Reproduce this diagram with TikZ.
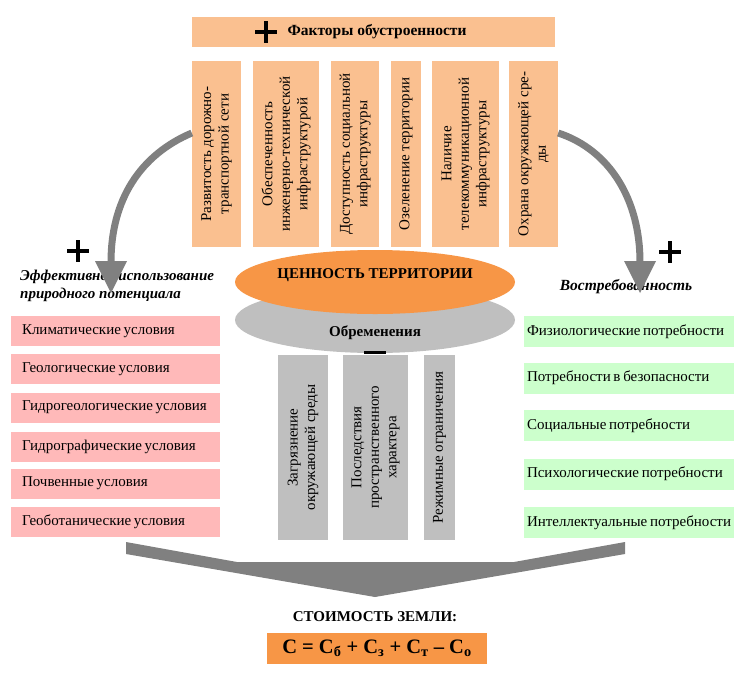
\documentclass[tikz,border=0pt]{standalone}
\usepackage{fontspec}
\setmainfont{Liberation Serif}
\usetikzlibrary{shapes.geometric}
\definecolor{cPeach}{HTML}{FAC090}
\definecolor{cOrange}{HTML}{F79646}
\definecolor{cGray}{HTML}{BFBFBF}
\definecolor{cPink}{HTML}{FFB9B9}
\definecolor{cGreen}{HTML}{CCFFCC}
\definecolor{cArrow}{HTML}{808080}
\newcommand{\nw}[1]{\mbox{\spaceskip=0.18em plus 0.05em\relax #1}}
\begin{document}
\begin{tikzpicture}[x=1pt,y=-1pt,
  txt/.style={font=\fontsize{15}{17.5}\selectfont, text=black},
  btxt/.style={font=\fontsize{15}{17.5}\selectfont\bfseries, text=black},
  topbar/.style={fill=cPeach, draw=none, inner sep=0pt, minimum width=363pt, minimum height=30pt},
  vbox/.style={fill=cPeach, draw=none, rotate=90, inner sep=0pt, align=center, minimum width=186pt, txt},
  gbox/.style={fill=cGray, draw=none, rotate=90, inner sep=0pt, align=center, minimum width=185pt, txt},
  pinkbox/.style={fill=cPink, draw=none, inner sep=0pt, minimum width=209pt, minimum height=30pt, txt, text width=187pt, align=left},
  greenbox/.style={fill=cGreen, draw=none, inner sep=0pt, minimum width=210pt, minimum height=31pt, txt, text width=204pt, align=left},
  plussign/.style={line width=3.5pt, black},
  bigarrow/.style={draw=cArrow, line width=7pt},
  headfill/.style={fill=cArrow, draw=none}
]
\useasboundingbox (0,0) rectangle (750,681);

% top bar
\node[topbar] (topbar) at (373.5,32) {};
\node[btxt, font=\fontsize{15.5}{18}\selectfont\bfseries] (toptitle) at (377,32) {Факторы обустроенности};
\draw[plussign] (255,32) -- (277,32) (266,21) -- (266,43);

% vertical peach boxes
\node[vbox, minimum height=49pt] (f1) at (216.5,154) {Развитость дорожно-\\транспортной сети};
\node[vbox, minimum height=66pt] (f2) at (286,154) {Обеспеченность\\инженерно-технической\\инфраструктурой};
\node[vbox, minimum height=48pt] (f3) at (355,154) {Доступность социальной\\инфраструктуры};
\node[vbox, minimum height=30pt] (f4) at (406,154) {Озеленение территории};
\node[vbox, minimum height=67pt] (f5) at (465.5,154) {Наличие\\телекоммуникационной\\инфраструктуры};
\node[vbox, minimum height=49pt] (f6) at (533.5,154) {Охрана окружающей сре-\\ды};

% ellipses
\node[ellipse, fill=cGray, minimum width=280pt, minimum height=66pt, inner sep=0pt] (obr) at (375,320) {};
\node[btxt] (obrtxt) at (375,333) {Обременения};
\node[ellipse, fill=cOrange, minimum width=280pt, minimum height=64pt, inner sep=0pt] (val) at (375,282) {};
\node[btxt] (valtxt) at (375,275) {ЦЕННОСТЬ ТЕРРИТОРИИ};
\draw[line width=3pt, black] (364,352) -- (386,352);

% gray boxes
\node[gbox, minimum height=50pt] (g1) at (303,447.5) {Загрязнение\\окружающей среды};
\node[gbox, minimum height=65pt] (g2) at (375.5,447.5) {Последствия\\пространственного\\характера};
\node[gbox, minimum height=31pt] (g3) at (439.5,447.5) {Режимные ограничения};

% left title and pink boxes
\node[anchor=west, align=left, inner sep=0pt, font=\fontsize{15}{18.5}\selectfont\bfseries\itshape] (ltitle) at (20,286) {Эффективное использование\\природного потенциала};
\draw[plussign] (67,251) -- (89,251) (78,240) -- (78,262);
\node[pinkbox] (p1) at (115.5,331) {\nw{Климатические условия}};
\node[pinkbox] (p2) at (115.5,369) {\nw{Геологические условия}};
\node[pinkbox] (p3) at (115.5,407.5) {\nw{Гидрогеологические условия}};
\node[pinkbox] (p4) at (115.5,446.5) {\nw{Гидрографические условия}};
\node[pinkbox] (p5) at (115.5,483.5) {\nw{Почвенные условия}};
\node[pinkbox] (p6) at (115.5,521.5) {\nw{Геоботанические условия}};

% right title and green boxes
\node[font=\fontsize{15.5}{18}\selectfont\bfseries\itshape] (rtitle) at (626,287) {Востребованность};
\draw[plussign] (659,252) -- (681,252) (670,241) -- (670,263);
\node[greenbox] (q1) at (629,331.5) {\nw{Физиологические потребности}};
\node[greenbox] (q2) at (629,378) {\nw{Потребности в безопасности}};
\node[greenbox] (q3) at (629,425.5) {\nw{Социальные потребности}};
\node[greenbox] (q4) at (629,474) {\nw{Психологические потребности}};
\node[greenbox] (q5) at (629,522.5) {\nw{Интеллектуальные потребности}};

% curved arrows
\coordinate (la) at (111,262);
\coordinate (ra) at (640,262);
\draw[bigarrow] (f1.north) ++(0,-21) coordinate (ls) (ls) .. controls (140,155) and (111,200) .. (la);
\fill[headfill] (95,261) -- (127,261) -- (111,293) -- cycle;
\draw[bigarrow] (f6.south) ++(0,-21) coordinate (rs) (rs) .. controls (610,150) and (640,200) .. (ra);
\fill[headfill] (624,261) -- (656,261) -- (640,293) -- cycle;

% bottom chevron
\fill[cArrow] (126,542) -- (237,562) -- (514,562) -- (625,542) -- (625,554) -- (375,597) -- (126,554) -- cycle;

% result
\node[btxt] (cost) at (375,617) {СТОИМОСТЬ ЗЕМЛИ:};
\node[fill=cOrange, minimum width=220pt, minimum height=31pt, inner sep=0pt, font=\fontsize{20.5}{24}\selectfont\bfseries] (formula) at (377,648.5) {С = С\textsubscript{б} + С\textsubscript{з} + С\textsubscript{т} – С\textsubscript{о}};
\end{tikzpicture}
\end{document}
